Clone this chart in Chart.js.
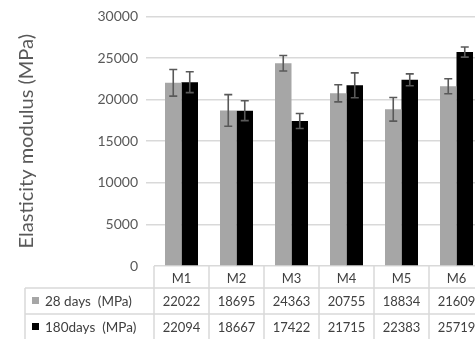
<!DOCTYPE html>
<html>
<head>
<meta charset="utf-8">
<script src="https://cdn.jsdelivr.net/npm/chart.js@4.4.1/dist/chart.umd.min.js"></script>
<style>
  html, body { margin: 0; padding: 0; background: #fff; overflow: hidden; }
  #wrap { width: 486px; height: 339px; }
</style>
</head>
<body>
<div id="wrap"><canvas id="c" width="486" height="339"></canvas></div>
<script>
const categories = ['M1', 'M2', 'M3', 'M4', 'M5', 'M6'];
const seriesLabels = ['28 days  (MPa)', '180days  (MPa)'];
const days28 = [22022, 18695, 24363, 20755, 18834, 21609];
const days180 = [22094, 18667, 17422, 21715, 22383, 25719];
const err28 = [1600, 1900, 930, 1030, 1420, 900];
const err180 = [1250, 1200, 900, 1500, 710, 610];
const yMin = 0, yMax = 30000, yStep = 5000;
const yTitle = 'Elasticity modulus (MPa)';

const FONT = 'Lato, "Open Sans", sans-serif';
const colors = ['#a6a6a6', '#000000'];
const errs = [err28, err180];
const values = [days28, days180];

const errorBarPlugin = {
  id: 'errorBars',
  afterDatasetsDraw(chart) {
    const ctx = chart.ctx;
    const y = chart.scales.y;
    ctx.save();
    ctx.strokeStyle = '#595959';
    ctx.lineWidth = 1.6;
    chart.data.datasets.forEach((ds, di) => {
      const meta = chart.getDatasetMeta(di);
      meta.data.forEach((bar, i) => {
        const v = ds.data[i], e = errs[di][i];
        const x = bar.x;
        const yt = y.getPixelForValue(v + e);
        const yb = y.getPixelForValue(v - e);
        const cap = 4;
        ctx.beginPath();
        ctx.moveTo(x, yt); ctx.lineTo(x, yb);
        ctx.moveTo(x - cap, yt); ctx.lineTo(x + cap, yt);
        ctx.moveTo(x - cap, yb); ctx.lineTo(x + cap, yb);
        ctx.stroke();
      });
    });
    ctx.restore();
  }
};

const tablePlugin = {
  id: 'dataTable',
  afterDraw(chart) {
    const ctx = chart.ctx;
    const xs = chart.scales.x;
    const area = chart.chartArea;
    const top = area.bottom;
    const r1 = top + 22, r2 = top + 48, r3 = top + 74;
    const legendLeft = 25;
    const step = xs.getPixelForValue(1) - xs.getPixelForValue(0);
    const n = categories.length;
    const left = xs.getPixelForValue(0) - step / 2;
    const right = xs.getPixelForValue(n - 1) + step / 2;
    ctx.save();
    ctx.strokeStyle = '#d9d9d9';
    ctx.lineWidth = 1.5;
    ctx.beginPath();
    ctx.moveTo(legendLeft, r1); ctx.lineTo(right, r1);
    ctx.moveTo(legendLeft, r2); ctx.lineTo(right, r2);
    ctx.moveTo(legendLeft, r3); ctx.lineTo(right, r3);
    ctx.moveTo(legendLeft, r1); ctx.lineTo(legendLeft, r3);
    for (let i = 0; i <= n; i++) {
      const x = left + i * step;
      ctx.moveTo(x, top); ctx.lineTo(x, r3);
    }
    ctx.stroke();

    ctx.fillStyle = '#404040';
    ctx.font = '13px ' + FONT;
    ctx.textAlign = 'center';
    ctx.textBaseline = 'middle';
    categories.forEach((c, i) => {
      const cx = xs.getPixelForValue(i);
      ctx.fillText(c, cx, (top + r1) / 2 + 2);
      ctx.fillText(String(values[0][i]), cx, (r1 + r2) / 2 + 1);
      ctx.fillText(String(values[1][i]), cx, (r2 + r3) / 2 + 1);
    });
    // legend keys
    ctx.textAlign = 'left';
    ctx.font = '13.5px ' + FONT;
    [[r1, r2], [r2, r3]].forEach((rr, k) => {
      const cy = (rr[0] + rr[1]) / 2;
      ctx.fillStyle = colors[k];
      ctx.fillRect(32, cy - 4, 7, 7);
      ctx.fillStyle = '#404040';
      ctx.fillText(seriesLabels[k], 45, cy + 1);
    });
    ctx.restore();
  }
};

new Chart(document.getElementById('c'), {
  type: 'bar',
  data: {
    labels: categories,
    datasets: seriesLabels.map((lab, k) => ({
      label: lab,
      data: values[k],
      backgroundColor: colors[k],
      borderWidth: 0,
      categoryPercentage: 0.6,
      barPercentage: 1.0
    }))
  },
  options: {
    responsive: false,
    animation: false,
    devicePixelRatio: 1,
    layout: { padding: { left: 0, right: 2, top: 13, bottom: 73 } },
    plugins: { legend: { display: false }, tooltip: { enabled: false } },
    scales: {
      x: { display: false },
      y: {
        min: yMin, max: yMax,
        ticks: {
          stepSize: yStep, color: '#595959', font: { family: FONT, size: 14 }, padding: 8,
          callback: (v) => String(v)
        },
        grid: {
          color: '#d9d9d9', lineWidth: 1.5, tickLength: 8,
          tickColor: (c) => (c.tick && c.tick.value === 0 ? 'rgba(0,0,0,0)' : '#d9d9d9')
        },
        border: { display: false },
        title: {
          display: true, text: yTitle, color: '#595959',
          font: { family: FONT, size: 20 }, padding: { top: 15, bottom: 0 }
        },
        afterFit(scale) { scale.width = 154; }
      }
    }
  },
  plugins: [errorBarPlugin, tablePlugin]
});
</script>
</body>
</html>
